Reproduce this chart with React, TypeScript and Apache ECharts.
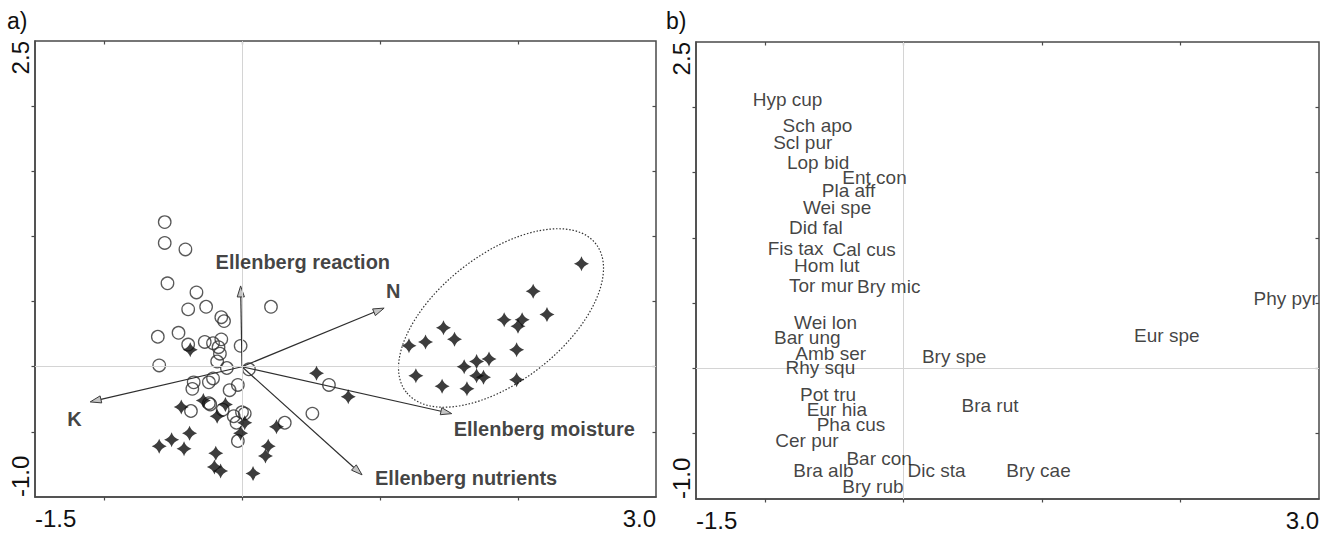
import React, { useEffect, useRef } from 'react';
import * as echarts from 'echarts';

// ---------- data ----------
// panel a) sample scores (open circles)
const sitesOpen: [number, number][] = [
  [-0.56, 1.11], [-0.56, 0.95], [-0.41, 0.9], [-0.54, 0.64], [-0.33, 0.57], [-0.39, 0.44],
  [-0.26, 0.46], [0.21, 0.46], [-0.15, 0.38], [-0.13, 0.35], [-0.61, 0.23], [-0.46, 0.26],
  [-0.39, 0.17], [-0.27, 0.19], [-0.21, 0.18], [-0.15, 0.21], [-0.17, 0.15], [-0.16, 0.1],
  [-0.18, 0.04], [-0.01, 0.16], [-0.6, 0.01], [-0.11, -0.01], [0.05, -0.02], [-0.35, -0.12],
  [-0.36, -0.17], [-0.24, -0.12], [-0.21, -0.09], [-0.03, -0.14], [-0.09, -0.18], [0.63, -0.14],
  [-0.24, -0.28], [-0.23, -0.29], [-0.37, -0.34], [-0.14, -0.33], [-0.06, -0.38], [0.0, -0.35],
  [0.02, -0.36], [-0.04, -0.43], [-0.03, -0.57], [0.31, -0.43], [0.51, -0.36],
];
// panel a) sample scores (filled stars)
const sitesStar: [number, number][] = [
  [2.46, 0.79], [2.11, 0.58], [2.21, 0.4], [1.9, 0.36], [2.03, 0.36], [2.0, 0.31],
  [1.46, 0.3], [1.54, 0.21], [1.33, 0.19], [1.21, 0.16], [1.99, 0.13], [1.79, 0.06],
  [1.7, 0.04], [1.61, 0.0], [1.26, -0.07], [1.7, -0.07], [1.75, -0.08], [1.99, -0.1],
  [1.45, -0.15], [1.63, -0.17], [0.54, -0.05], [0.77, -0.23], [-0.375, 0.13], [-0.44, -0.31],
  [-0.28, -0.26], [-0.12, -0.29], [-0.18, -0.38], [0.02, -0.43], [-0.01, -0.51], [0.25, -0.46],
  [-0.38, -0.51], [-0.51, -0.56], [-0.6, -0.61], [-0.42, -0.63], [-0.19, -0.665], [0.19, -0.61],
  [0.17, -0.685], [-0.2, -0.77], [-0.155, -0.8], [0.08, -0.82],
];
// panel a) environmental vectors
const envNames = ['Ellenberg reaction', 'N', 'K', 'Ellenberg moisture', 'Ellenberg nutrients'];
const envX = [-0.01, 1.03, -1.1, 1.52, 0.87];
const envY = [0.62, 0.45, -0.27, -0.36, -0.83];
const envLabelX = [-0.195, 1.04, -1.27, 1.53, 0.96];
const envLabelY = [0.8, 0.578, -0.4, -0.476, -0.851];
// panel a) dotted ellipse around the star group
const ellipseCenter = [1.877, 0.374];
const ellipseSemiAxes = [0.872, 0.457];
const ellipseAngleDeg = 38;

// panel b) species labels
const speciesNames = [
  'Hyp cup', 'Sch apo', 'Scl pur', 'Lop bid', 'Ent con', 'Pla aff', 'Wei spe', 'Did fal',
  'Fis tax', 'Cal cus', 'Hom lut', 'Tor mur', 'Bry mic', 'Phy pyr', 'Wei lon', 'Bar ung',
  'Eur spe', 'Amb ser', 'Bry spe', 'Rhy squ', 'Pot tru', 'Bra rut', 'Eur hia', 'Pha cus',
  'Cer pur', 'Bar con', 'Bra alb', 'Dic sta', 'Bry cae', 'Bry rub',
];
const speciesX = [
  -1.094, -0.878, -0.946, -0.847, -0.447, -0.595, -0.731, -0.832,
  -0.986, -0.518, -0.795, -0.832, -0.34, 2.523, -0.795, -0.94,
  1.661, -0.786, 0.128, -0.857, -0.752, 0.414, -0.703, -0.632,
  -0.931, -0.417, -0.801, 0.024, 0.738, -0.447,
];
const speciesY = [
  2.063, 1.864, 1.728, 1.579, 1.466, 1.361, 1.236, 1.079,
  0.916, 0.908, 0.791, 0.634, 0.628, 0.537, 0.353, 0.236,
  0.254, 0.113, 0.092, 0.005, -0.196, -0.283, -0.314, -0.432,
  -0.55, -0.688, -0.785, -0.78, -0.78, -0.903,
];

// axes
const xMin = -1.5;
const xMax = 3.0;
const yMin = -1.0;
const yMax = 2.5;
const xTickValues = [-1, 0, 1, 2];
const yTickValues = [-0.5, 0, 0.5, 1, 1.5, 2];
const xTickLabels = [-1.5, 3.0];
const yTickLabels = [-1.0, 2.5];
const panelTitles = ['a)', 'b)'];

// ---------- styles ----------
const FONT = "'Liberation Sans', Arial, Helvetica, sans-serif";
const AX = '#4a4a4a';
const TXT = '#111111';
const STAR = 'path://M0,-10 Q2.4,-2.4 10,0 Q2.4,2.4 0,10 Q-2.4,2.4 -10,0 Q-2.4,-2.4 0,-10Z';

function mkX(gridIndex: number, inner: boolean) {
  return {
    type: 'value',
    gridIndex,
    min: xMin,
    max: xMax,
    axisLine: { show: !inner, onZero: false, lineStyle: { color: AX, width: 1.5 } },
    axisTick: {
      show: true,
      inside: inner,
      length: 3.5,
      customValues: xTickValues,
      lineStyle: { color: AX, width: 1.2 },
    },
    axisLabel: inner
      ? { show: false }
      : {
          show: true,
          customValues: xTickLabels,
          formatter: (v: number) => v.toFixed(1),
          fontSize: 24,
          color: TXT,
          fontFamily: FONT,
          margin: 9,
          alignMinLabel: 'left',
          alignMaxLabel: 'right',
        },
    splitLine: { show: false },
  };
}

function mkY(gridIndex: number, inner: boolean) {
  return {
    type: 'value',
    gridIndex,
    min: yMin,
    max: yMax,
    axisLine: { show: !inner, onZero: false, lineStyle: { color: AX, width: 1.5 } },
    axisTick: {
      show: true,
      inside: inner,
      length: 3.5,
      customValues: yTickValues,
      lineStyle: { color: AX, width: 1.2 },
    },
    axisLabel: inner
      ? { show: false }
      : {
          show: true,
          customValues: yTickLabels,
          formatter: (v: number) => v.toFixed(1),
          fontSize: 24,
          color: TXT,
          fontFamily: FONT,
          margin: 3,
          rotate: 90,
          alignMinLabel: 'left',
          alignMaxLabel: 'right',
        },
    splitLine: { show: false },
  };
}

function zeroLines(idx: number) {
  return {
    type: 'scatter',
    xAxisIndex: idx,
    yAxisIndex: idx,
    data: [],
    z: 1,
    silent: true,
    markLine: {
      silent: true,
      symbol: ['none', 'none'],
      label: { show: false },
      lineStyle: { color: '#d4d4d4', width: 1, type: 'solid', opacity: 1 },
      emphasis: { disabled: true },
      data: [{ xAxis: 0 }, { yAxis: 0 }],
    },
  };
}

export default function App() {
  const ref = useRef<HTMLDivElement>(null);

  useEffect(() => {
    const chart = echarts.init(ref.current!, null, { renderer: 'svg' });

    const option: any = {
      animation: false,
      backgroundColor: '#ffffff',
      title: panelTitles.map((t, i) => ({
        text: t,
        left: i === 0 ? 7 : 666,
        top: 9,
        padding: 0,
        textStyle: { fontSize: 23, fontWeight: 'normal', color: TXT, fontFamily: FONT },
      })),
      grid: [
        { left: 35, top: 41, width: 621, height: 456, show: true, borderColor: AX, borderWidth: 1.5, backgroundColor: 'transparent' },
        { left: 696, top: 42, width: 623, height: 457, show: true, borderColor: AX, borderWidth: 1.5, backgroundColor: 'transparent' },
      ],
      xAxis: [mkX(0, false), mkX(1, false), mkX(0, true), mkX(1, true)],
      yAxis: [mkY(0, false), mkY(1, false), mkY(0, true), mkY(1, true)],
      series: [
        zeroLines(0),
        zeroLines(1),
        // ellipse
        {
          type: 'custom',
          xAxisIndex: 0,
          yAxisIndex: 0,
          silent: true,
          z: 2,
          data: [[ellipseCenter[0], ellipseCenter[1]]],
          renderItem: (params: any, api: any) => {
            const c = api.coord([api.value(0), api.value(1)]);
            const unit = api.size([1, 1]);
            return {
              type: 'ellipse',
              x: c[0],
              y: c[1],
              rotation: (ellipseAngleDeg * Math.PI) / 180,
              shape: { cx: 0, cy: 0, rx: ellipseSemiAxes[0] * unit[0], ry: ellipseSemiAxes[1] * unit[0] },
              style: { fill: 'none', stroke: '#333', lineWidth: 1.2, lineDash: [1.5, 1.8] },
            };
          },
        },
        // arrows
        {
          type: 'custom',
          xAxisIndex: 0,
          yAxisIndex: 0,
          silent: true,
          z: 3,
          data: envX.map((x, i) => [x, envY[i]]),
          renderItem: (params: any, api: any) => {
            const o = api.coord([0, 0]);
            const t = api.coord([api.value(0), api.value(1)]);
            const ang = Math.atan2(t[1] - o[1], t[0] - o[0]);
            const cs = Math.cos(ang);
            const sn = Math.sin(ang);
            const L = 11;
            const W = 3.6;
            const b = [t[0] - L * cs, t[1] - L * sn];
            const p1 = [b[0] + W * sn, b[1] - W * cs];
            const p2 = [b[0] - W * sn, b[1] + W * cs];
            return {
              type: 'group',
              children: [
                { type: 'line', shape: { x1: o[0], y1: o[1], x2: b[0], y2: b[1] }, style: { stroke: '#2e2e2e', lineWidth: 1.2 } },
                { type: 'polygon', shape: { points: [t, p1, p2] }, style: { fill: '#c4c4c4', stroke: '#3a3a3a', lineWidth: 1 } },
              ],
            };
          },
        },
        // open circles
        {
          type: 'scatter',
          xAxisIndex: 0,
          yAxisIndex: 0,
          z: 4,
          symbol: 'circle',
          symbolSize: 12.5,
          itemStyle: { color: 'rgba(255,255,255,0)', borderColor: '#303030', borderWidth: 1.3 },
          data: sitesOpen,
        },
        // stars
        {
          type: 'scatter',
          xAxisIndex: 0,
          yAxisIndex: 0,
          z: 5,
          symbol: STAR,
          symbolSize: 15,
          itemStyle: { color: '#0d0d0d' },
          data: sitesStar,
        },
        // env labels
        {
          type: 'scatter',
          xAxisIndex: 0,
          yAxisIndex: 0,
          z: 6,
          symbolSize: 1,
          itemStyle: { color: 'rgba(0,0,0,0)' },
          label: {
            show: true,
            position: 'right',
            distance: 0,
            formatter: '{b}',
            fontSize: 20,
            fontWeight: 'bold',
            color: '#111',
            fontFamily: FONT,
          },
          data: envLabelX.map((x, i) => ({ name: envNames[i], value: [x, envLabelY[i]] })),
        },
        // species labels
        {
          type: 'scatter',
          xAxisIndex: 1,
          yAxisIndex: 1,
          z: 6,
          symbolSize: 1,
          itemStyle: { color: 'rgba(0,0,0,0)' },
          label: {
            show: true,
            position: 'right',
            distance: 0,
            formatter: '{b}',
            fontSize: 19,
            color: TXT,
            fontFamily: FONT,
          },
          labelLayout: { hideOverlap: false },
          data: speciesX.map((x, i) => ({ name: speciesNames[i], value: [x, speciesY[i]] })),
        },
      ],
    };

    chart.setOption(option);
    return () => chart.dispose();
  }, []);

  return <div ref={ref} style={{ position: 'absolute', left: 0, top: 0, width: 1329, height: 535 }} />;
}
